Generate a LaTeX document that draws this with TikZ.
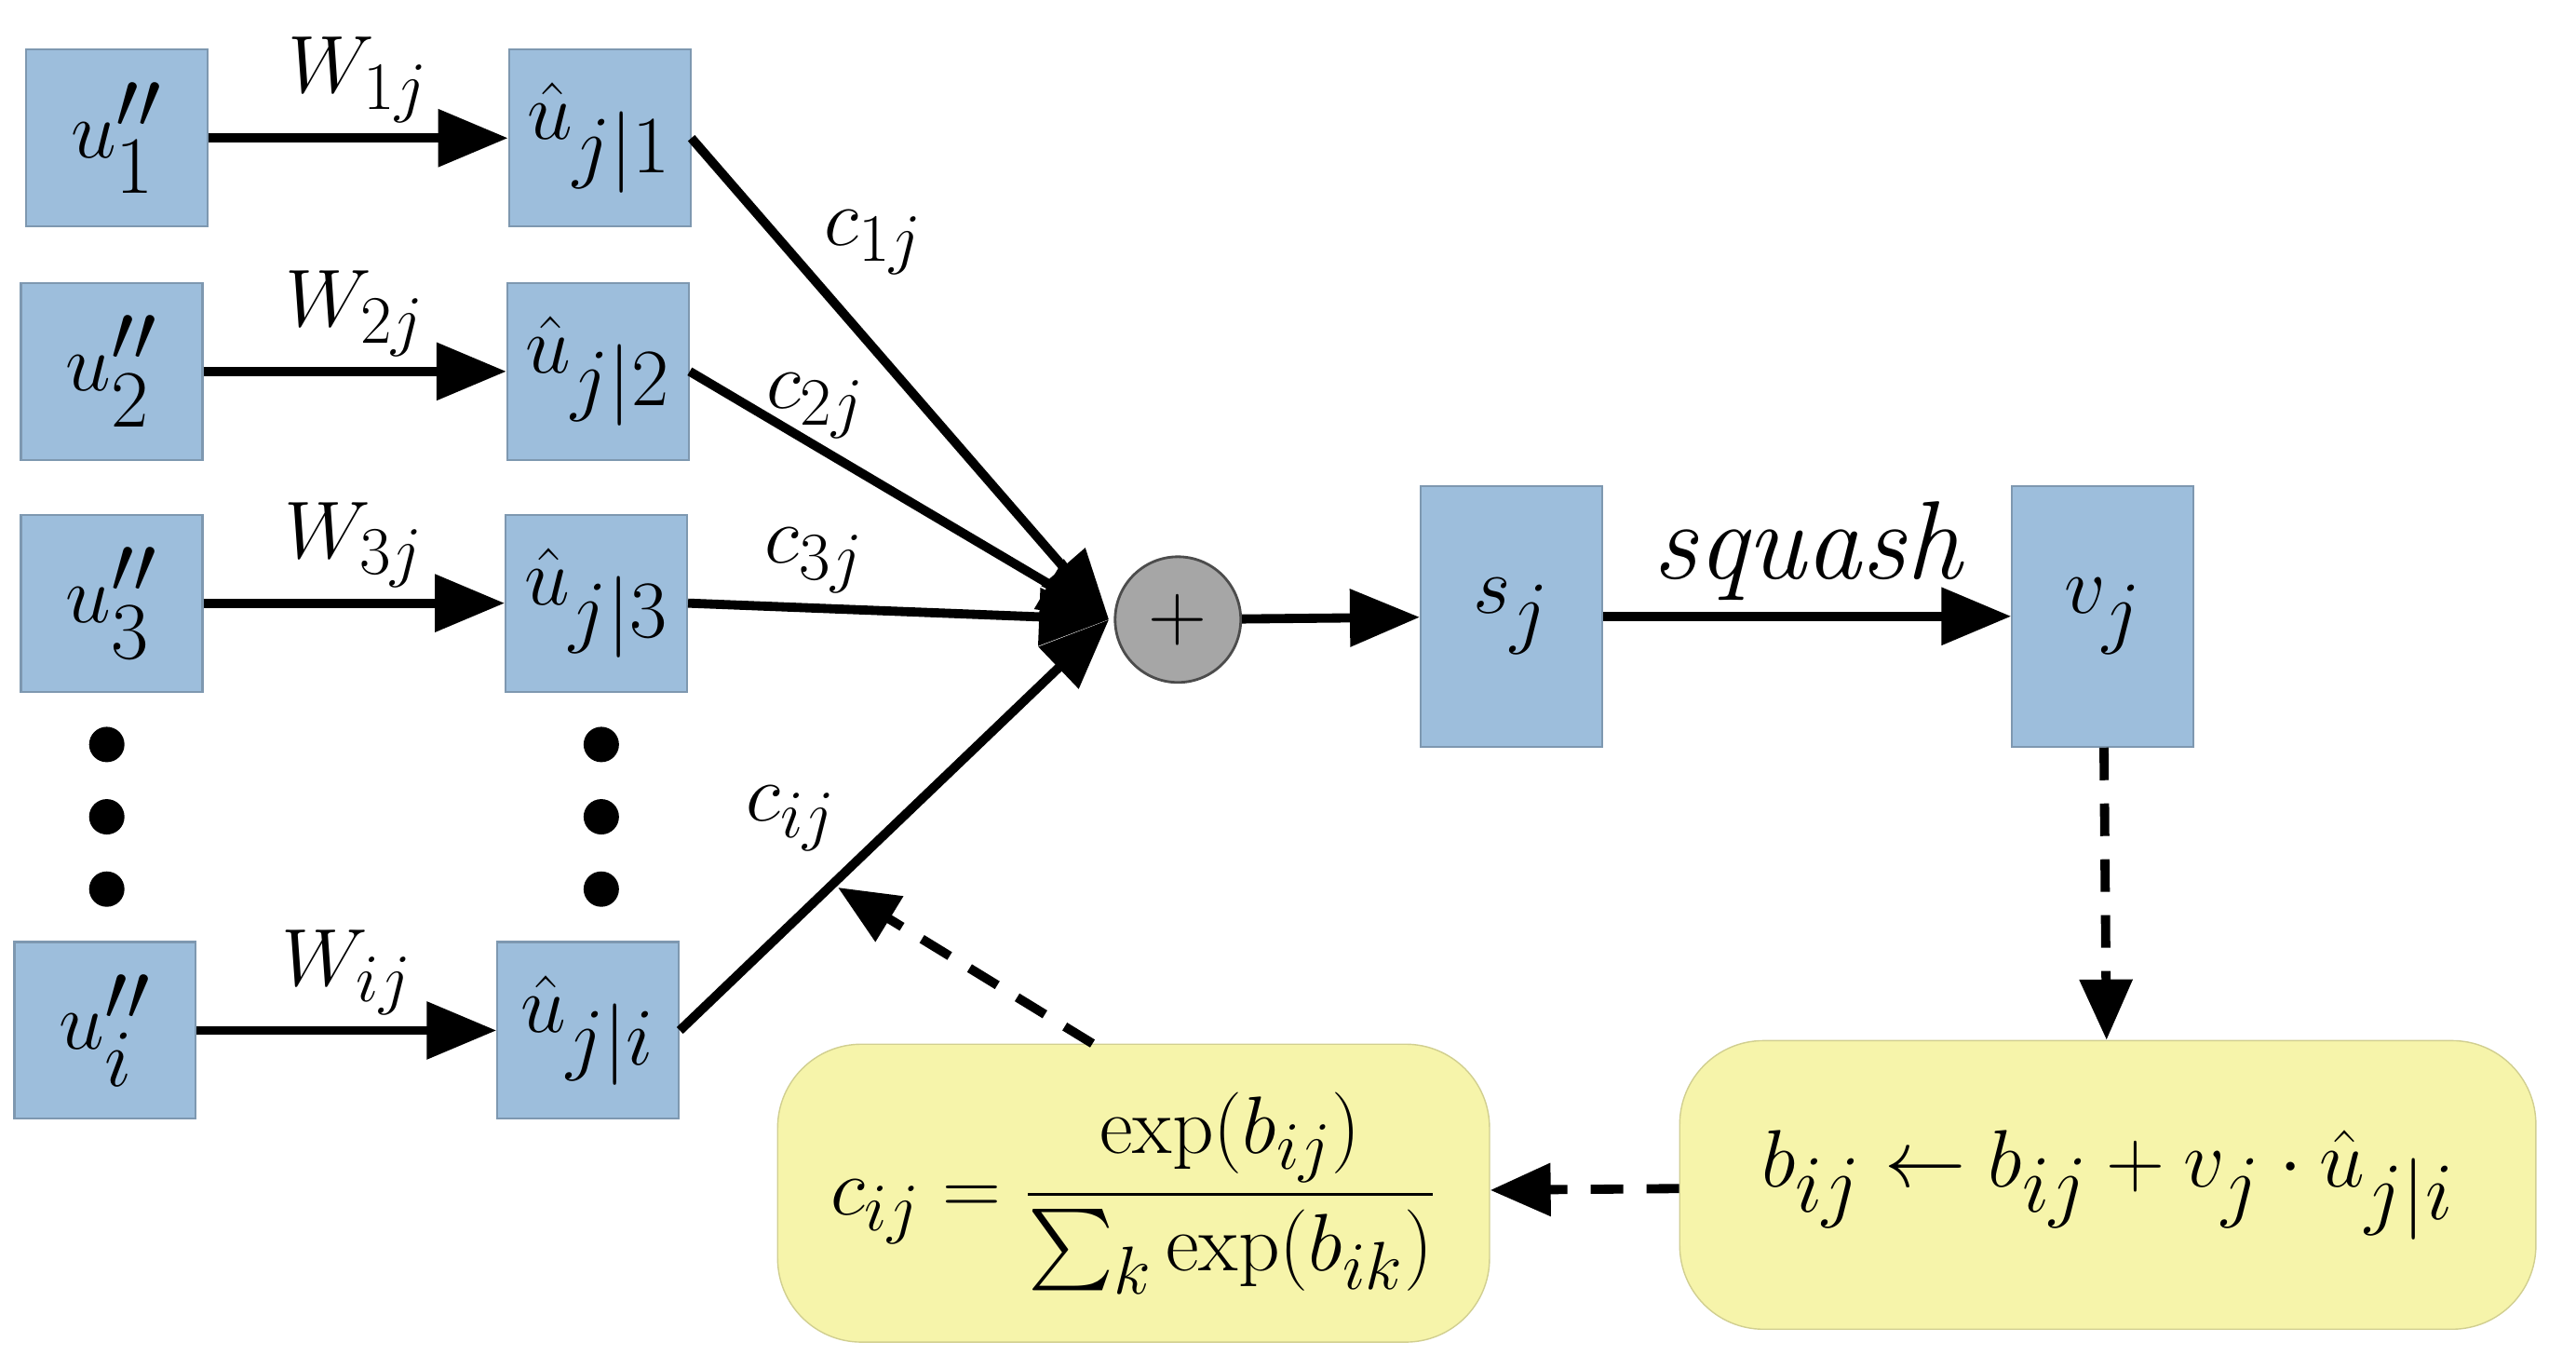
\documentclass[tikz,border=0pt]{standalone}
\usepackage{amsmath}
\usetikzlibrary{arrows.meta}
\definecolor{boxblue}{RGB}{157,190,220}
\definecolor{boxyellow}{RGB}{246,244,170}
\tikzstyle{capsule} = [rectangle, minimum width=1.95cm, minimum height=1.9cm, fill=boxblue, draw=boxblue!80!black, line width=0.6pt, font=\fontsize{34}{40}\selectfont]
\tikzstyle{tall} = [capsule, minimum height=2.8cm]
\tikzstyle{rule} = [rectangle, rounded corners=0.9cm, fill=boxyellow, draw=boxyellow!85!black, font=\fontsize{30}{36}\selectfont]
\tikzstyle{arrow} = [line width=2.8pt, -{Triangle[length=0.75cm,width=0.6cm]}]
\tikzstyle{dasharrow} = [line width=2.8pt, dash pattern=on 0.35cm off 0.25cm, -{Triangle[length=0.65cm,width=0.55cm]}]
\tikzstyle{lbl} = [font=\fontsize{28}{32}\selectfont]
\tikzstyle{dot} = [circle, fill=black, inner sep=0pt, minimum size=0.38cm]

\begin{document}
\begin{tikzpicture}[x=0.01765cm, y=-0.01765cm]
\useasboundingbox (0,0) rectangle (1568,833);

% inputs and predictions
\node (u1) [capsule] at (71,84) {$u''_1$};
\node (u2) [capsule] at (68,226) {$u''_2$};
\node (u3) [capsule] at (68,367) {$u''_3$};
\node (ui) [capsule] at (64,627) {$u''_i$};
\node (h1) [capsule] at (365,84) {$\hat{u}_{j|1}$};
\node (h2) [capsule] at (364,226) {$\hat{u}_{j|2}$};
\node (h3) [capsule] at (363,367) {$\hat{u}_{j|3}$};
\node (hi) [capsule] at (358,627) {$\hat{u}_{j|i}$};

\foreach \y/\n in {453/a,497/b,541/c} {
  \node (ldot\n) [dot] at (65,\y) {};
  \node (rdot\n) [dot] at (366,\y) {};
}

\node (sum) [circle, minimum size=1.35cm, fill=gray!70, draw=black!70, line width=0.8pt, font=\fontsize{30}{36}\selectfont] at (717,377) {$+$};
\node (sj) [tall] at (920,375) {$s_j$};
\node (vj) [tall] at (1280,375) {$v_j$};

\node (cform) [rule, minimum width=7.65cm, minimum height=3.2cm] at (690,726) {$c_{ij}=\dfrac{\exp(b_{ij})}{\sum_k \exp(b_{ik})}$};
\node (bupd) [rule, minimum width=9.2cm, minimum height=3.1cm, font=\fontsize{34}{40}\selectfont] at (1283,721) {$b_{ij}\leftarrow b_{ij}+v_j\cdot\hat{u}_{j|i}$};
\coordinate (tgt) at (675,377);
\coordinate (mid) at (510,540);

\draw [arrow] (u1) -- node [lbl, above] {$W_{1j}$} (h1);
\draw [arrow] (u2) -- node [lbl, above] {$W_{2j}$} (h2);
\draw [arrow] (u3) -- node [lbl, above] {$W_{3j}$} (h3);
\draw [arrow] (ui) -- node [lbl, above] {$W_{ij}$} (hi);
\draw [arrow] (h1.east) -- node [lbl, pos=0.3, anchor=south west, inner sep=1pt] {$c_{1j}$} (tgt);
\draw [arrow] (h2.east) -- node [lbl, pos=0.3, anchor=south, inner sep=1pt] {$c_{2j}$} (tgt);
\draw [arrow] (h3.east) -- node [lbl, pos=0.3, above] {$c_{3j}$} (tgt);
\draw [arrow] (hi.east) -- node [lbl, pos=0.4, above left] {$c_{ij}$} (tgt);
\draw [arrow] (sum) -- (sj);
\draw [arrow] (sj) -- node [lbl, above, font=\fontsize{34}{40}\selectfont] {\itshape squash} (vj);
\draw [dasharrow] (vj) -- (bupd);
\draw [dasharrow] (bupd) -- (cform);
\draw [dasharrow] (cform.north -| 665,0) -- (mid);

\end{tikzpicture}
\end{document}
